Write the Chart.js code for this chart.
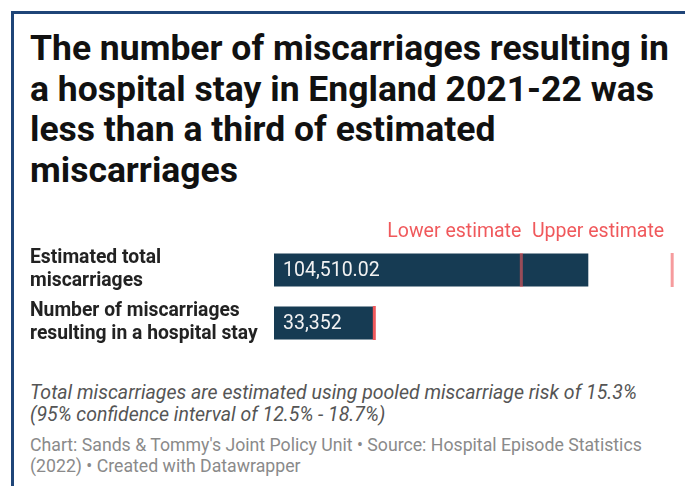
<!DOCTYPE html>
<html>
<head>
<meta charset="utf-8">
<script src="https://cdn.jsdelivr.net/npm/chart.js@4"></script>
<style>
  html, body { margin: 0; padding: 0; background: #fff; }
  body { width: 685px; height: 486px; position: relative; overflow: hidden; font-family: Roboto, sans-serif; }
  .frame { position: absolute; left: 11px; top: 11px; right: -10px; bottom: -10px; border-left: 3px solid #1f4578; border-top: 3px solid #1f4578; }
  .title { position: absolute; left: 30px; top: 28px; width: 652px; font-weight: 700; font-size: 35.5px; line-height: 40.5px; color: #111; }
  .chart { position: absolute; left: 0; top: 200px; width: 685px; height: 175px; }
  .note { position: absolute; left: 30px; top: 382px; font-style: italic; font-size: 19.5px; line-height: 22px; color: #555; white-space: nowrap; }
  .foot { position: absolute; left: 30px; top: 434.5px; font-size: 17.7px; line-height: 21px; color: #8a8a8a; white-space: nowrap; }
</style>
</head>
<body>
<div class="frame"></div>
<div class="title">The number of miscarriages resulting in a hospital stay in England 2021-22 was less than a third of estimated miscarriages</div>
<div class="chart"><canvas id="c"></canvas></div>
<div class="note">Total miscarriages are estimated using pooled miscarriage risk of 15.3%<br>(95% confidence interval of 12.5% - 18.7%)</div>
<div class="foot">Chart: Sands &amp; Tommy's Joint Policy Unit • Source: Hospital Episode Statistics<br>(2022) • Created with Datawrapper</div>
<script>
  // values
  const categories = [
    ['Estimated total', 'miscarriages'],
    ['Number of miscarriages', 'resulting in a hospital stay']
  ];
  const valueLabels = ['104,510.02', '33,352'];
  const values = [104510.02, 33352];
  const lowerEstimate = [82240, null];
  const upperEstimate = [132400, null];
  const hospitalMarker = [null, 33352];
  const markerLabels = ['Lower estimate', 'Upper estimate'];

  const BAR = '#163b53';
  const RED = '#f0595c';

  // draws value labels inside bars and the estimate labels above
  const textPlugin = {
    id: 'texts',
    afterDatasetsDraw(chart) {
      const ctx = chart.ctx;
      const x = chart.scales.x;
      const bars = chart.getDatasetMeta(0).data;
      ctx.save();
      ctx.font = '19.5px Roboto';
      ctx.textBaseline = 'middle';
      ctx.fillStyle = '#f2f2f2';
      ctx.textAlign = 'left';
      bars.forEach((b, i) => {
        ctx.fillText(valueLabels[i], b.base + 9, b.y + 1);
      });
      ctx.fillStyle = RED;
      ctx.textAlign = 'right';
      const ty = chart.chartArea.top - 11;
      ctx.fillText(markerLabels[0], x.getPixelForValue(lowerEstimate[0]), ty);
      ctx.fillText(markerLabels[1], x.getPixelForValue(upperEstimate[0]) - 8, ty);
      ctx.restore();
    }
  };

  function marker(data, color) {
    return {
      type: 'line',
      data: data,
      showLine: false,
      pointStyle: 'line',
      rotation: 90,
      radius: 17,
      pointBorderWidth: 3,
      borderColor: color,
      pointBorderColor: color,
      order: 0
    };
  }

  function build() {
    new Chart(document.getElementById('c'), {
      type: 'bar',
      data: {
        labels: categories,
        datasets: [
          {
            data: values,
            backgroundColor: BAR,
            categoryPercentage: 1,
            barPercentage: 0.623,
            order: 2
          },
          marker(lowerEstimate, 'rgba(240,89,92,0.6)'),
          marker(upperEstimate, 'rgba(240,89,92,0.6)'),
          marker(hospitalMarker, RED)
        ]
      },
      options: {
        indexAxis: 'y',
        responsive: true,
        maintainAspectRatio: false,
        animation: false,
        events: [],
        // label half-heights would otherwise eat into the bottom padding
        layout: { autoPadding: false, padding: { left: 30, right: 5, top: 43.5, bottom: 25.5 } },
        plugins: { legend: { display: false }, tooltip: { enabled: false } },
        scales: {
          x: { display: false, min: 0, max: 135000 },
          y: {
            type: 'category',
            offset: true,
            grid: { display: false },
            border: { display: false },
            afterFit(s) { s.width = 244; },
            ticks: {
              crossAlign: 'far',
              padding: 0,
              color: '#222',
              font: { family: 'Roboto', size: 19.3, weight: 'bold', lineHeight: 1.2 }
            }
          }
        }
      },
      plugins: [textPlugin]
    });
  }

  if (document.fonts && document.fonts.load) {
    Promise.all([
      document.fonts.load('bold 19px Roboto'),
      document.fonts.load('19px Roboto')
    ]).then(build, build);
  } else {
    build();
  }
</script>
</body>
</html>
